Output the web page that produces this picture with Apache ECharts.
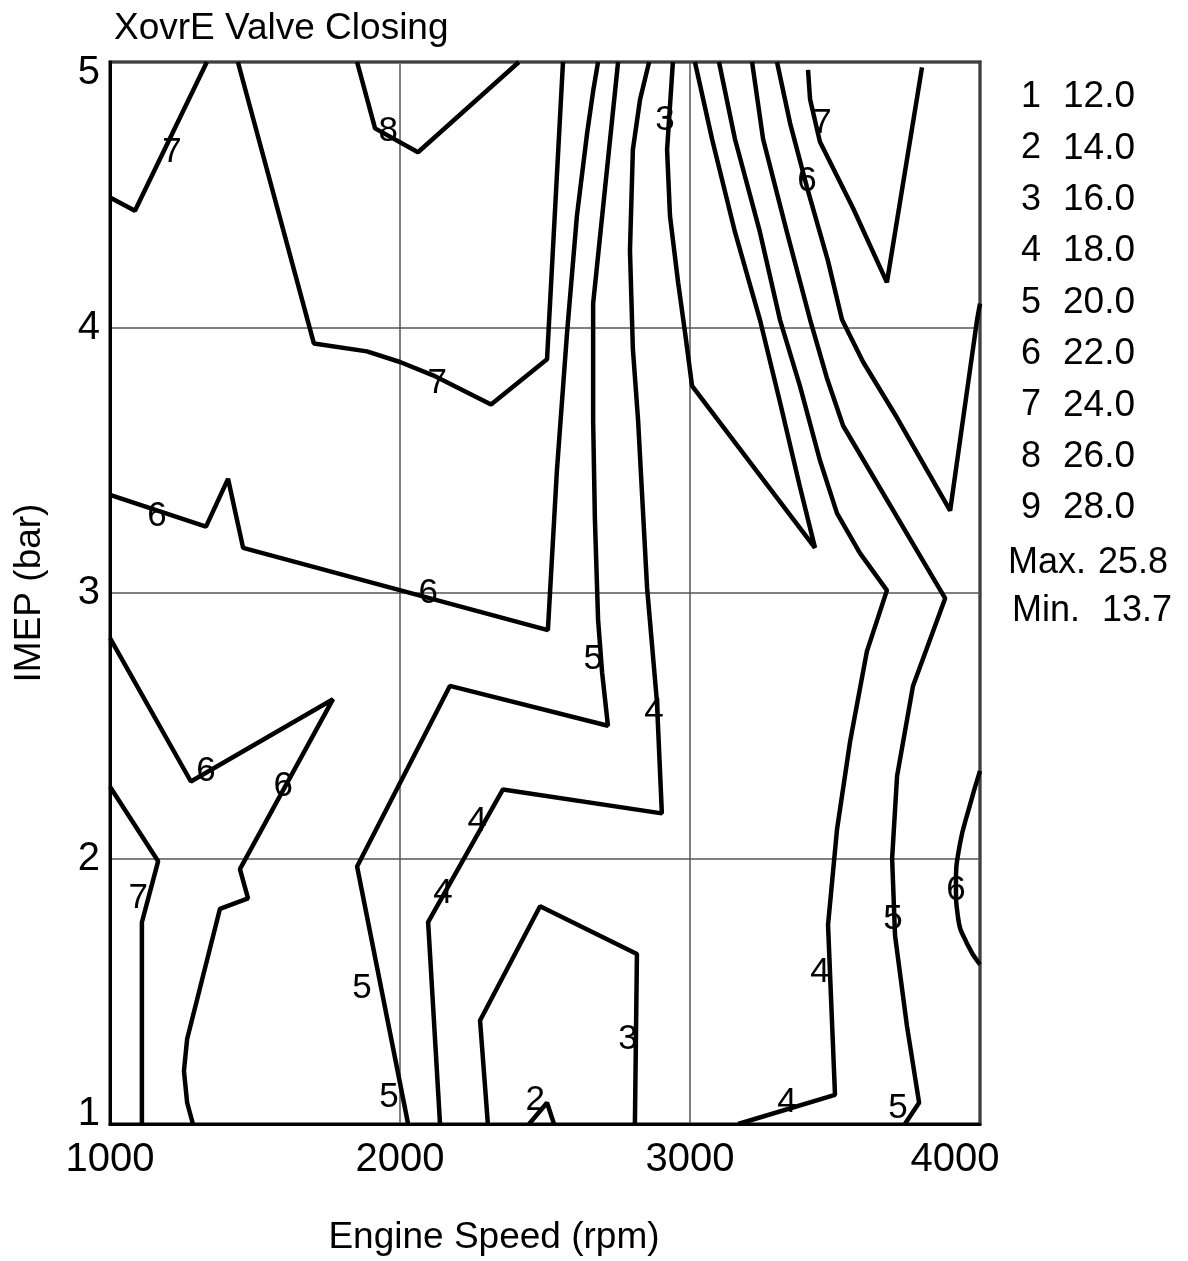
<!DOCTYPE html>
<html><head><meta charset="utf-8">
<script src="https://cdn.jsdelivr.net/npm/echarts@6/dist/echarts.min.js"></script>
<style>html,body{margin:0;padding:0;background:#fff}#c{width:1188px;height:1261px}</style>
</head><body><div id="c"></div>
<script>
// ---- data (x: engine speed rpm, y: IMEP bar) ----
const xTicks = [1000, 2000, 3000, 4000];
const yTicks = [1, 2, 3, 4, 5];
const levelNums = [1, 2, 3, 4, 5, 6, 7, 8, 9];
const levelVals = [12.0, 14.0, 16.0, 18.0, 20.0, 22.0, 24.0, 26.0, 28.0];
const maxVal = 25.8;
const minVal = 13.7;

// contour polylines
const c7_topLeft = [[1000,4.49],[1086,4.44],[1334,5.0]];
const c7_center = [[1441,5.0],[1703,3.94],[1886,3.91],[2000,3.87],[2114,3.82],[2314,3.71],[2507,3.88],[2562,5.0]];
const c8_top = [[1852,5.0],[1914,4.75],[2062,4.66],[2410,5.0]];
const c6_upper = [[1000,3.37],[1331,3.25],[1407,3.43],[1459,3.17],[2510,2.86],[2541,3.46],[2576,3.98],[2610,4.42],[2645,4.73],[2666,4.89],[2683,5.0]];
const c6_lowerLeft = [[1000,2.83],[1279,2.29],[1769,2.60],[1448,1.96],[1476,1.85],[1379,1.81],[1266,1.32],[1255,1.20],[1266,1.08],[1286,1.0]];
const c7_lowerLeft = [[1000,2.27],[1166,1.99],[1110,1.76],[1110,1.0]];
const c5_center = [[2028,1.0],[1852,1.97],[2172,2.65],[2717,2.50],[2697,2.70],[2683,2.90],[2672,3.28],[2666,3.65],[2666,4.09],[2752,5.0]];
const c4_center = [[2138,1.0],[2097,1.76],[2355,2.26],[2903,2.17],[2886,2.59],[2852,3.02],[2821,3.65],[2803,3.92],[2793,4.29],[2803,4.67],[2828,4.86],[2859,5.0]];
const c3_bottom = [[2303,1.0],[2276,1.39],[2483,1.82],[2817,1.64],[2810,1.0]];
const c2_bottom = [[2445,1.0],[2507,1.08],[2531,1.0]];
const c3_upper = [[2941,5.0],[2921,4.67],[2931,4.42],[2959,4.17],[2983,3.98],[3007,3.78],[3431,3.17],[3379,3.40],[3310,3.72],[3241,4.03],[3155,4.36],[3076,4.71],[3017,5.0]];
const c4_right = [[3100,5.0],[3155,4.71],[3241,4.36],[3310,4.03],[3379,3.78],[3448,3.50],[3507,3.30],[3586,3.15],[3679,3.01],[3610,2.78],[3552,2.44],[3507,2.11],[3476,1.75],[3500,1.11],[3166,1.0]];
const c5_right = [[3214,5.0],[3252,4.71],[3334,4.36],[3414,4.03],[3472,3.81],[3528,3.63],[3880,2.98],[3769,2.65],[3714,2.31],[3697,2.00],[3707,1.71],[3748,1.37],[3790,1.08],[3741,1.0]];
const c6_right = [[3300,5.0],[3345,4.77],[3403,4.53],[3476,4.25],[3524,4.03],[3597,3.87],[3714,3.66],[3897,3.31],[3990,4.03],[4000,4.09]];
const c7_right = [[3407,4.97],[3414,4.86],[3448,4.70],[3562,4.45],[3679,4.17],[3800,4.98]];
const c6_rightArc = [[4000,2.33],[3965,2.20],[3930,2.05],[3917,1.90],[3924,1.78],[3955,1.68],[4000,1.60]];

// contour labels [rpm, bar, level]
const contourLabels = [
  [1214,4.66,7],[1959,4.74,8],[2128,3.79,7],[1162,3.29,6],[2097,3.00,6],
  [2666,2.75,5],[2876,2.55,4],[2266,2.14,4],[1331,2.33,6],[1597,2.27,6],
  [1097,1.85,7],[2148,1.87,4],[1869,1.51,5],[1962,1.10,5],[2786,1.32,3],
  [2466,1.09,2],[2914,4.78,3],[3455,4.77,7],[3403,4.55,6],[3700,1.77,5],
  [3448,1.57,4],[3334,1.08,4],[3717,1.06,5],[3917,1.88,6]
];

const contourLines = [c7_topLeft, c7_center, c8_top, c6_upper, c6_lowerLeft, c7_lowerLeft,
  c5_center, c4_center, c3_bottom, c2_bottom, c3_upper, c4_right, c5_right, c6_right, c7_right, c6_rightArc];
const smoothLines = [c6_rightArc];

const FONT = '"Liberation Sans", Arial, sans-serif';
const FS = 36;
const TICK_FS = 40;

const series = contourLines.map(function (pts) {
  return {
    type: 'line', data: pts, showSymbol: false, symbol: 'none',
    smooth: smoothLines.indexOf(pts) >= 0 ? 0.5 : false,
    lineStyle: { color: '#000', width: 4.5 }, z: 3, silent: true
  };
});
series.push({
  type: 'scatter', data: contourLabels, symbol: 'circle', symbolSize: 0,
  itemStyle: { color: '#000', opacity: 1 }, z: 5, silent: true,
  label: { show: true, position: 'inside', formatter: function (p) { return String(p.value[2]); },
           color: '#000', opacity: 1, textBorderWidth: 0, fontSize: 35, fontFamily: FONT }
});

// legend text (right column)
const legendY0 = 97, legendStep = 51.4;
const graphic = [];
levelNums.forEach(function (n, i) {
  const y = legendY0 + i * legendStep;
  graphic.push({ type: 'text', x: 1031, y: y, style: { text: String(n), fontSize: FS, fontFamily: FONT, fill: '#000', align: 'center', verticalAlign: 'middle' } });
  graphic.push({ type: 'text', x: 1135, y: y, style: { text: levelVals[i].toFixed(1), fontSize: 37, fontFamily: FONT, fill: '#000', align: 'right', verticalAlign: 'middle' } });
});
graphic.push({ type: 'text', x: 1008, y: 563, style: { text: 'Max.', fontSize: FS, fontFamily: FONT, fill: '#000', align: 'left', verticalAlign: 'middle' } });
graphic.push({ type: 'text', x: 1168, y: 563, style: { text: maxVal.toFixed(1), fontSize: FS, fontFamily: FONT, fill: '#000', align: 'right', verticalAlign: 'middle' } });
graphic.push({ type: 'text', x: 1012, y: 611, style: { text: 'Min.', fontSize: FS, fontFamily: FONT, fill: '#000', align: 'left', verticalAlign: 'middle' } });
graphic.push({ type: 'text', x: 1172, y: 611, style: { text: minVal.toFixed(1), fontSize: FS, fontFamily: FONT, fill: '#000', align: 'right', verticalAlign: 'middle' } });

const yMin = yTicks[0], yMax = yTicks[yTicks.length - 1];

const chart = echarts.init(document.getElementById('c'), null, { renderer: 'canvas' });
chart.setOption({
  animation: false,
  backgroundColor: '#fff',
  title: { text: 'XovrE Valve Closing', left: 114, top: 10, padding: 0,
           textStyle: { fontSize: 37, fontWeight: 'normal', color: '#000', fontFamily: FONT } },
  grid: { left: 110, right: 208, top: 62, bottom: 136, show: true, borderColor: '#000', borderWidth: 3, containLabel: false },
  xAxis: {
    type: 'value', min: xTicks[0], max: xTicks[xTicks.length - 1], interval: xTicks[1] - xTicks[0],
    name: 'Engine Speed (rpm)', nameLocation: 'middle', nameGap: 95,
    nameTextStyle: { fontSize: 37, color: '#000', fontFamily: FONT, padding: [0, 102, 0, 0] },
    axisLine: { show: true, lineStyle: { color: '#000', width: 3 } },
    axisTick: { show: false },
    axisLabel: {
      fontSize: TICK_FS, color: '#000', fontFamily: FONT, margin: 16,
      formatter: function (v) { return v === xTicks[xTicks.length - 1] ? '{m|' + v + '}' : String(v); },
      rich: { m: { fontSize: TICK_FS, color: '#000', fontFamily: FONT, padding: [0, 50, 0, 0] } }
    },
    splitLine: { show: true, lineStyle: { color: '#555', width: 1.5 } }
  },
  yAxis: {
    type: 'value', min: yMin, max: yMax, interval: yTicks[1] - yTicks[0],
    name: 'IMEP (bar)', nameLocation: 'middle', nameGap: 62, nameRotate: 90,
    nameTextStyle: { fontSize: 37, color: '#000', fontFamily: FONT },
    axisLine: { show: true, lineStyle: { color: '#000', width: 3 } },
    axisTick: { show: false },
    axisLabel: {
      fontSize: TICK_FS, color: '#000', fontFamily: FONT, margin: 10,
      formatter: function (v) {
        if (v === yMax) return '{top|' + v + '}';
        if (v === yMin) return '{bot|' + v + '}';
        return String(v);
      },
      rich: {
        top: { fontSize: TICK_FS, color: '#000', fontFamily: FONT, padding: [22, 0, 0, 0] },
        bot: { fontSize: TICK_FS, color: '#000', fontFamily: FONT, padding: [0, 0, 20, 0] }
      }
    },
    splitLine: { show: true, lineStyle: { color: '#555', width: 1.5 } }
  },
  graphic: graphic,
  series: series
});
</script></body></html>
